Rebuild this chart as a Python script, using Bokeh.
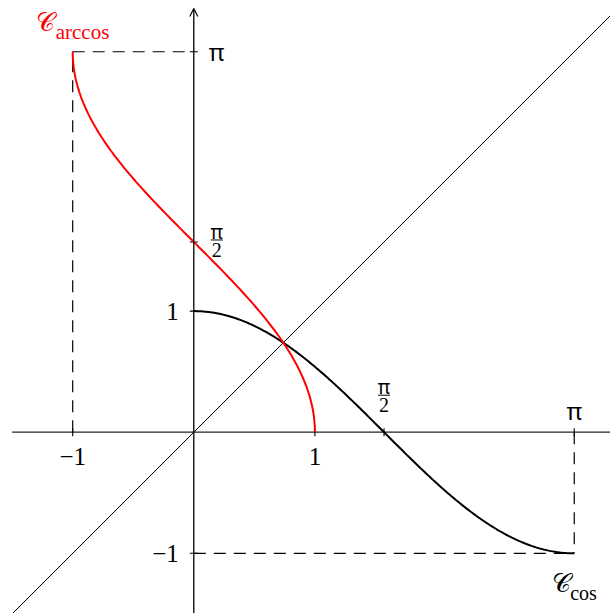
import numpy as np
from bokeh.plotting import figure
from bokeh.models import Arrow, OpenHead
from bokeh.core.properties import value
from bokeh.embed import file_html
from bokeh.resources import INLINE

PI = np.pi

# ---- data ----
cos_t = np.linspace(0, PI, 300)          # domain of cos drawn: [0, pi]
cos_vals = np.cos(cos_t)
arccos_t = np.linspace(0, PI, 300)       # arccos drawn as mirror: x = cos(t), y = t
arccos_x = np.cos(arccos_t)
arccos_vals = arccos_t

x_tick_vals = [-1.0, 1.0, PI / 2, PI]
x_tick_labels = ["\u22121", "1", "\u03c0/2", "\u03c0"]
y_tick_vals = [-1.0, 1.0, PI / 2, PI]
y_tick_labels = ["\u22121", "1", "\u03c0/2", "\u03c0"]

# ---- geometry ----
UNIT = 121.1          # pixels per unit
W, H = 610, 613
ox, oy = 193.3, 431.7  # origin in figure pixels
x0 = -ox / UNIT
x1 = (W - ox) / UNIT
y1 = oy / UNIT
y0 = -(H - oy) / UNIT

FONT = value("Liberation Serif")
PIFONT = value("Noto Sans")

p = figure(width=W, height=H, x_range=(x0, x1), y_range=(y0, y1),
           output_backend="svg", toolbar_location=None,
           x_axis_type=None, y_axis_type=None, min_border=0)
p.outline_line_color = None
p.grid.visible = False
p.background_fill_color = "white"
p.border_fill_color = "white"

px = 1.0 / UNIT  # one pixel in data units

# diagonal y = x
p.line([-1.5, 3.5], [-1.5, 3.5], line_color="black", line_width=1)

# axes
p.line([-1.5, x1 + 0.1], [0, 0], line_color="#222222", line_width=1.3)
p.add_layout(Arrow(end=OpenHead(size=8, line_width=1.2, line_color="black"),
                   x_start=0, y_start=y0 - 0.1, x_end=0, y_end=y1 - 8 * px,
                   line_color="black", line_width=1.3))

# dashed guides
dash = "12 8"
p.line([-1, -1], [0, PI], line_color="black", line_dash=dash, line_width=1.2)
p.line([-1, 0], [PI, PI], line_color="black", line_dash=dash, line_width=1.2)
p.line([PI, PI], [0, -1], line_color="black", line_dash=dash, line_width=1.2)
p.line([0, PI], [-1, -1], line_color="black", line_dash=dash, line_width=1.2)

# ticks
tk = 4 * px
p.segment(x0=x_tick_vals, y0=[-tk] * 4, x1=x_tick_vals, y1=[tk] * 4,
          line_color="black", line_width=1.1)
p.segment(x0=[-tk] * 4, y0=y_tick_vals, x1=[tk] * 4, y1=y_tick_vals,
          line_color="black", line_width=1.1)

# curves
p.line(cos_t, cos_vals, line_color="black", line_width=2)
p.line(arccos_x, arccos_vals, line_color="red", line_width=2)

# tick labels
def lab(x, y, t, dx, dy, size="25px", align="center", color="black", font=FONT):
    p.text(x=[x], y=[y], text=[t], x_offset=dx, y_offset=dy,
           text_font=font, text_font_size=size, text_align=align,
           text_baseline="middle", text_color=color)

def frac(x, y, dx, dy):
    # dy is the screen offset of the fraction bar centre
    lab(x, y, "\u03c0", dx, dy - 8, size="19px", font=PIFONT)
    lab(x, y, "2", dx, dy + 10, size="20px")
    p.segment(x0=[x + (dx - 6) * px], y0=[y - dy * px],
              x1=[x + (dx + 6) * px], y1=[y - dy * px],
              line_color="black", line_width=1)

for v, t in zip(x_tick_vals, x_tick_labels):
    if t == "\u03c0/2":
        frac(v, 0, 0, -37)
    elif t == "\u03c0":
        lab(v, 0, t, 0, -22, size="24px", font=PIFONT)
    else:
        lab(v, 0, t, 0, 24)

for v, t in zip(y_tick_vals, y_tick_labels):
    if t == "\u03c0/2":
        frac(0, v, 23, -2)
    elif t == "\u03c0":
        lab(0, v, t, 15, 0, align="left", size="24px", font=PIFONT)
    else:
        lab(0, v, t, -15, 0, align="right")

# curve names
p.text(x=[-1], y=[PI], text=["\U0001D49E"], x_offset=-27, y_offset=-29,
       text_font=FONT, text_font_size="26px", text_align="center",
       text_baseline="middle", text_color="red")
p.text(x=[-1], y=[PI], text=["arccos"], x_offset=-17, y_offset=-20,
       text_font=FONT, text_font_size="21px", text_align="left",
       text_baseline="alphabetic", text_color="red")
p.text(x=[PI], y=[-1], text=["\U0001D49E"], x_offset=-13, y_offset=30,
       text_font=FONT, text_font_size="26px", text_align="center",
       text_baseline="middle", text_color="black")
p.text(x=[PI], y=[-1], text=["cos"], x_offset=-4, y_offset=40,
       text_font=FONT, text_font_size="20px", text_align="left",
       text_baseline="alphabetic", text_color="black")

open("out.html", "w").write(file_html(p, INLINE))
